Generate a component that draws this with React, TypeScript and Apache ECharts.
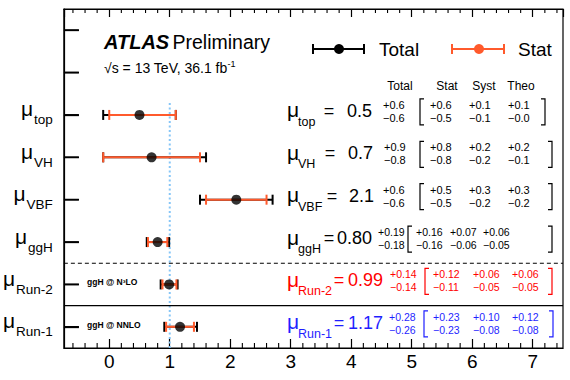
import React, { useEffect, useRef } from 'react';
import * as echarts from 'echarts';

// ---------------- data ----------------
const rowNames = ['Run-1', 'Run-2', 'ggH', 'VBF', 'VH', 'top'];
const yCategories = [...rowNames, '', ' '];
const central = [1.17, 0.99, 0.8, 2.1, 0.7, 0.5];
const totalUp = [0.28, 0.14, 0.19, 0.6, 0.9, 0.6];
const totalDown = [0.26, 0.14, 0.18, 0.6, 0.8, 0.6];
const statUp = [0.23, 0.12, 0.16, 0.5, 0.8, 0.6];
const statDown = [0.23, 0.11, 0.16, 0.5, 0.8, 0.5];
const systUp = [0.1, 0.06, 0.07, 0.3, 0.2, 0.1];
const systDown = [0.08, 0.05, 0.06, 0.2, 0.2, 0.1];
const theoUp = [0.12, 0.06, 0.06, 0.3, 0.2, 0.1];
const theoDown = [0.08, 0.05, 0.05, 0.2, 0.1, 0.0];
const decimals = [2, 2, 2, 1, 1, 1];
const orderLabels = ['ggH @ NNLO', 'ggH @ N\u00B3LO'];
const columnHeaders = ['Total', 'Stat', 'Syst', 'Theo'];
const legendNames = ['Total', 'Stat'];
const X_MIN = -0.75;
const X_MAX = 7.5;

// ---------------- style / layout ----------------
const FONT = '"Liberation Sans", Arial, Helvetica, sans-serif';
const ORANGE = '#ff5a2c';
const rowColors = ['#1f1fff', '#ff0000', '#000', '#000', '#000', '#000'];
const eqX = [339, 339, 329, 332, 330, 329];
const valX = [348, 348, 337, 349, 348, 347];
const totX = [389, 390, 378, 383, 384, 383];
const lbX = [424, 425, 408, 420, 420, 420];
const statX = [433, 433, 416, 430, 430, 430];
const systX = [473, 473, 450, 469, 469, 469];
const theoX = [512, 512, 483, 508, 508, 508];
const rbX = [553, 552, 552, 552, 552, 545];
const headerX = [400, 447, 484, 521];
const Y_TICK_LEN = 15;

const MINUS = '\u2212';
const fmtUp = (v: number, d: number) => '+' + v.toFixed(d);
const fmtDn = (v: number, d: number) => MINUS + v.toFixed(d);

export default function App() {
  const ref = useRef<HTMLDivElement>(null);
  useEffect(() => {
    if (!ref.current) return;
    const chart = echarts.init(ref.current, null, { renderer: 'svg' });

    const barData = rowNames.map((_, i) => [
      i,
      central[i],
      +(central[i] - totalDown[i]).toFixed(3),
      +(central[i] + totalUp[i]).toFixed(3),
      +(central[i] - statDown[i]).toFixed(3),
      +(central[i] + statUp[i]).toFixed(3),
    ]);

    const minorTicks: number[][] = [];
    for (let k = -3; k <= 37; k++) {
      if (k % 5 !== 0) minorTicks.push([+(k * 0.2).toFixed(2), 0]);
    }

    const txt = (text: string, x: number, y: number, size: number, fill: string, align = 'left', weight = 'normal') => ({
      type: 'text',
      style: { text, x, y, fill, fontSize: size, fontFamily: FONT, fontWeight: weight, align, verticalAlign: 'middle' },
    });
    const yTick = (x: number, y: number) => ({
      type: 'line', z2: 50,
      shape: { x1: x + 0.5, y1: y, x2: x + Y_TICK_LEN, y2: y },
      style: { stroke: '#000', lineWidth: 1.5 },
    });

    const option: any = {
      animation: false,
      grid: { left: 62, right: 7, top: 9, bottom: 32, show: true, borderColor: '#000', borderWidth: 1.2, containLabel: false },
      xAxis: [
        {
          type: 'value', min: X_MIN, max: X_MAX, splitNumber: 8,
          axisLine: { show: true, onZero: false, lineStyle: { color: '#000', width: 1.2 } },
          axisTick: { show: true, inside: true, length: 9, lineStyle: { color: '#000', width: 1.2 } },
          axisLabel: { show: true, showMinLabel: false, showMaxLabel: false, color: '#000', fontSize: 19, fontFamily: FONT, margin: 4 },
          splitLine: { show: false },
        },
        {
          type: 'value', position: 'top', min: X_MIN, max: X_MAX, splitNumber: 8,
          axisLine: { show: true, onZero: false, lineStyle: { color: '#000', width: 1.2 } },
          axisTick: { show: true, inside: true, length: 8, lineStyle: { color: '#000', width: 1.2 } },
          axisLabel: { show: false },
          splitLine: { show: false },
        },
      ],
      yAxis: {
        type: 'category', data: yCategories,
        axisLine: { show: true, onZero: false, lineStyle: { color: '#000', width: 1.2 } },
        axisTick: { show: true, inside: true, alignWithLabel: true, length: Y_TICK_LEN, lineStyle: { color: '#000', width: 1.3 } },
        axisLabel: {
          margin: 11,
          formatter: (v: string) => (v.trim() === '' ? '' : `{mu|\u03BC}{sub|${v}}`),
          rich: {
            mu: { fontSize: 21, fontFamily: FONT, color: '#000', padding: [0, 1, 12, 0] },
            sub: { fontSize: 13.5, fontFamily: FONT, color: '#000', padding: [10, 0, 0, 0] },
          },
        },
        splitLine: { show: false },
      },
      graphic: [
        {
          type: 'text', left: 104, top: 32,
          style: {
            text: '{b|ATLAS} {n|Preliminary}',
            rich: {
              b: { fontSize: 20, fontWeight: 'bold', fontStyle: 'italic', fontFamily: FONT, fill: '#000' },
              n: { fontSize: 19.5, fontFamily: FONT, fill: '#000' },
            },
          },
        },
        {
          type: 'text', left: 104, top: 59,
          style: {
            text: '{n|\u221As = 13 TeV, 36.1 fb}{s|-1}',
            rich: {
              n: { fontSize: 14, fontFamily: FONT, fill: '#000' },
              s: { fontSize: 9, fontFamily: FONT, fill: '#000', padding: [0, 0, 9, 0] },
            },
          },
        },
        // legend: Total
        { type: 'line', shape: { x1: 313, y1: 49, x2: 364, y2: 49 }, style: { stroke: '#000', lineWidth: 2 } },
        { type: 'line', shape: { x1: 313, y1: 44, x2: 313, y2: 54 }, style: { stroke: '#000', lineWidth: 2 } },
        { type: 'line', shape: { x1: 364, y1: 44, x2: 364, y2: 54 }, style: { stroke: '#000', lineWidth: 2 } },
        { type: 'circle', shape: { cx: 339, cy: 49, r: 5 }, style: { fill: '#000' } },
        { type: 'text', left: 379, top: 40, style: { text: legendNames[0], fontSize: 19, fontFamily: FONT, fill: '#000' } },
        // legend: Stat
        { type: 'line', shape: { x1: 452, y1: 49, x2: 504, y2: 49 }, style: { stroke: ORANGE, lineWidth: 2 } },
        { type: 'line', shape: { x1: 452, y1: 44, x2: 452, y2: 54 }, style: { stroke: ORANGE, lineWidth: 2 } },
        { type: 'line', shape: { x1: 504, y1: 44, x2: 504, y2: 54 }, style: { stroke: ORANGE, lineWidth: 2 } },
        { type: 'circle', shape: { cx: 479, cy: 49, r: 5 }, style: { fill: ORANGE } },
        { type: 'text', left: 518, top: 40, style: { text: legendNames[1], fontSize: 19, fontFamily: FONT, fill: '#000' } },
        // column headers
        ...columnHeaders.map((h, k) => ({
          type: 'text', x: headerX[k], y: 86,
          style: { text: h, fontSize: 12, fontFamily: FONT, fill: '#000', align: 'center', verticalAlign: 'middle' },
        })),
      ],
      series: [
        // reference line at mu = 1, separators, ticks of the two empty categories
        {
          type: 'custom', xAxisIndex: 0, silent: true, z: 1,
          data: [[1, 0]],
          encode: { x: 0, y: 1 },
          renderItem: (params: any, api: any) => {
            const cs = params.coordSys;
            const y0 = api.coord([1, 0])[1];
            const y1 = api.coord([1, 1])[1];
            const y2 = api.coord([1, 2])[1];
            const y5 = api.coord([1, 5])[1];
            const band = y0 - y1;
            const x1 = api.coord([1, 0])[0];
            return {
              type: 'group',
              children: [
                { type: 'line', shape: { x1, y1: y0 + band / 2, x2: x1, y2: y5 - band * 0.29 }, style: { stroke: '#86c6f7', lineWidth: 2, lineDash: [2, 2.5] } },
                { type: 'line', shape: { x1: cs.x, y1: (y1 + y2) / 2, x2: cs.x + cs.width, y2: (y1 + y2) / 2 }, style: { stroke: '#000', lineWidth: 1, lineDash: [4, 3] } },
                { type: 'line', shape: { x1: cs.x, y1: (y0 + y1) / 2, x2: cs.x + cs.width, y2: (y0 + y1) / 2 }, style: { stroke: '#000', lineWidth: 1.2 } },
                yTick(cs.x, y5 - band),
                yTick(cs.x, y5 - 2 * band),
              ],
            };
          },
        },
        // y-axis ticks, one per category
        {
          type: 'custom', xAxisIndex: 0, silent: true, z: 10,
          data: yCategories.map((_, k) => [X_MIN, k]),
          encode: { x: 0, y: 1 },
          renderItem: (params: any, api: any) => {
            const p = api.coord([api.value(0), api.value(1)]);
            return yTick(params.coordSys.x, p[1]);
          },
        },
        // minor ticks (0.2 steps)
        {
          type: 'custom', xAxisIndex: 0, silent: true, z: 3,
          data: minorTicks,
          encode: { x: 0, y: 1 },
          renderItem: (params: any, api: any) => {
            const cs = params.coordSys;
            const x = api.coord([api.value(0), 0])[0];
            const b = cs.y + cs.height;
            return {
              type: 'group',
              children: [
                { type: 'line', shape: { x1: x, y1: b, x2: x, y2: b - 5 }, style: { stroke: '#000', lineWidth: 1.1 } },
                { type: 'line', shape: { x1: x, y1: cs.y, x2: x, y2: cs.y + 4 }, style: { stroke: '#000', lineWidth: 1.1 } },
              ],
            };
          },
        },
        // error bars: total (black) under stat (orange)
        {
          type: 'custom', name: 'errors', xAxisIndex: 0, z: 5,
          data: barData,
          encode: { x: [2, 3, 4, 5], y: 0 },
          renderItem: (params: any, api: any) => {
            const r = api.value(0);
            const lo = api.coord([api.value(2), r]);
            const hi = api.coord([api.value(3), r]);
            const slo = api.coord([api.value(4), r]);
            const shi = api.coord([api.value(5), r]);
            const h = 5;
            const seg = (a: number[], b: number[], c: string) => ({ type: 'line', shape: { x1: a[0], y1: a[1], x2: b[0], y2: b[1] }, style: { stroke: c, lineWidth: 2 } });
            const cap = (p: number[], c: string) => ({ type: 'line', shape: { x1: p[0], y1: p[1] - h, x2: p[0], y2: p[1] + h }, style: { stroke: c, lineWidth: 2 } });
            return {
              type: 'group',
              children: [
                seg(lo, hi, '#000'), cap(lo, '#000'), cap(hi, '#000'),
                seg(slo, shi, ORANGE), cap(slo, ORANGE), cap(shi, ORANGE),
              ],
            };
          },
        },
        // central values
        {
          type: 'scatter', name: 'central', xAxisIndex: 0, z: 6,
          symbol: 'circle', symbolSize: 10,
          itemStyle: { color: '#000' },
          data: rowNames.map((_, i) => [central[i], i]),
        },
        // order labels
        {
          type: 'custom', xAxisIndex: 0, silent: true, z: 6,
          data: orderLabels.map((_, i) => [0, i]),
          encode: { x: 0, y: 1 },
          renderItem: (params: any, api: any) => {
            const i = params.dataIndex;
            const yc = api.coord([0, i])[1];
            return txt(orderLabels[i], 87, yc - 2, 8.5, '#000', 'left', 'bold');
          },
        },
        // results table (+ the row's y tick)
        {
          type: 'custom', xAxisIndex: 0, silent: true, z: 6,
          data: rowNames.map((_, i) => [0, i]),
          encode: { x: 0, y: 1 },
          renderItem: (params: any, api: any) => {
            const i = params.dataIndex;
            const yc = api.coord([0, i])[1];
            const c = rowColors[i];
            const d = decimals[i];
            const es = d === 2 ? 10.5 : 11;
            const yu = yc - 10;
            const yd = yc + 3;
            const lb = lbX[i];
            const rb = rbX[i];
            return {
              type: 'group',
              children: [
                yTick(params.coordSys.x, yc),
                txt('\u03BC', 287, yc - 5, 21, c),
                txt(rowNames[i], 298, yc + 7, 12.5, c),
                txt('=', eqX[i], yc - 4, 18, c, 'center'),
                txt(central[i].toFixed(d), valX[i], yc - 4, 18, c),
                txt(fmtUp(totalUp[i], d), totX[i], yu, es, c),
                txt(fmtDn(totalDown[i], d), totX[i], yd, es, c),
                { type: 'polyline', shape: { points: [[lb + 4, yc - 16], [lb, yc - 16], [lb, yc + 10], [lb + 4, yc + 10]] }, style: { stroke: c, fill: null, lineWidth: 1.2 } },
                txt(fmtUp(statUp[i], d), statX[i], yu, es, c),
                txt(fmtDn(statDown[i], d), statX[i], yd, es, c),
                txt(fmtUp(systUp[i], d), systX[i], yu, es, c),
                txt(fmtDn(systDown[i], d), systX[i], yd, es, c),
                txt(fmtUp(theoUp[i], d), theoX[i], yu, es, c),
                txt(fmtDn(theoDown[i], d), theoX[i], yd, es, c),
                { type: 'polyline', shape: { points: [[rb - 4, yc - 16], [rb, yc - 16], [rb, yc + 10], [rb - 4, yc + 10]] }, style: { stroke: c, fill: null, lineWidth: 1.2 } },
              ],
            };
          },
        },
      ],
    };

    chart.setOption(option);
    return () => chart.dispose();
  }, []);

  return <div ref={ref} style={{ width: 570, height: 380, position: 'absolute', left: 0, top: 0, background: '#fff' }} />;
}
